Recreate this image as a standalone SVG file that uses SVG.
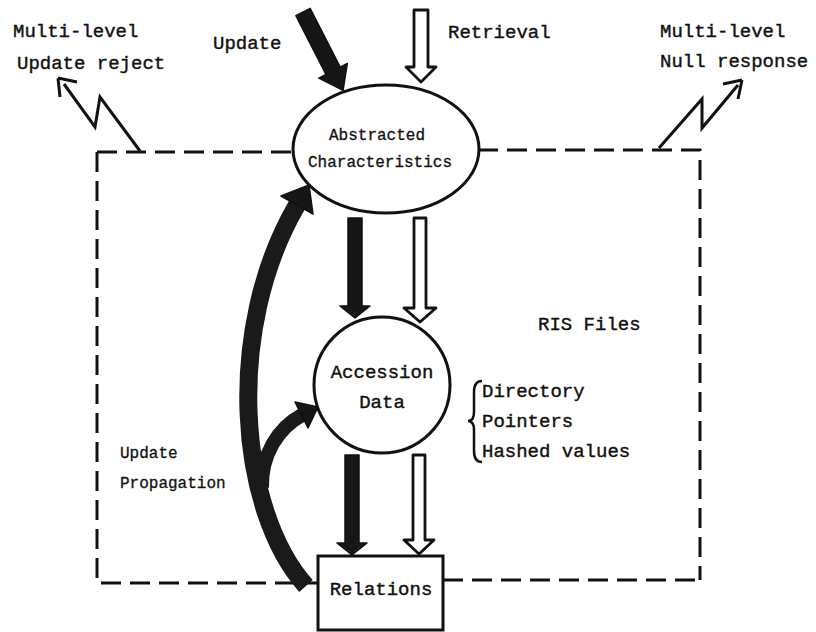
<svg xmlns="http://www.w3.org/2000/svg" width="816" height="632" viewBox="0 0 816 632">
<style>
.t{font-family:"Liberation Mono","Courier New",monospace;font-size:19px;fill:#111;stroke:#111;stroke-width:0.4}
.s{font-family:"Liberation Mono","Courier New",monospace;font-size:16px;fill:#111;stroke:#111;stroke-width:0.3}
.ln{fill:none;stroke:#111;stroke-width:3}
.dash{fill:none;stroke:#111;stroke-width:3;stroke-dasharray:20 9}
.dark{fill:#161616;stroke:#111;stroke-width:1.5;stroke-linejoin:round}
.hol{fill:#fff;stroke:#111;stroke-width:2.8;stroke-linejoin:round}
.curve{fill:none;stroke:#1a1a1a;stroke-linecap:butt}
</style>
<rect width="816" height="632" fill="#fff"/>
<g id="ris-box">
<path class="dash" d="M97,152 L293,152"/>
<path class="dash" d="M478,150 L700,150 L700,580"/>
<path class="dash" d="M97,152 L97,583 L318,583"/>
<path class="dash" d="M443,580 L700,580"/>
<text class="t" x="538" y="330">RIS Files</text>
</g>
<g id="connectors">
<path class="dark" transform="translate(303,12) rotate(-27.1)" d="M-8,0 L8,0 L8,66 L16,66 L0,88 L-16,66 L-8,66 Z"/>
<path class="hol" transform="translate(421,10)" d="M-7,0 L7,0 L7,57 L15,57 L0,72 L-15,57 L-7,57 Z"/>
<path class="dark" transform="translate(355,218)" d="M-7,0 L7,0 L7,88 L15,88 L0,100 L-15,88 L-7,88 Z"/>
<path class="hol" transform="translate(420,218)" d="M-6,0 L6,0 L6,90 L16,90 L0,104 L-16,90 L-6,90 Z"/>
<path class="dark" transform="translate(352,455)" d="M-7,0 L7,0 L7,88 L15,88 L0,100 L-15,88 L-7,88 Z"/>
<path class="hol" transform="translate(419,455)" d="M-6,0 L6,0 L6,85 L15,85 L0,99 L-15,85 L-6,85 Z"/>
<path class="curve" stroke-width="18" d="M306,586 C238,510 224,330 297,205"/>
<path class="dark" d="M309,185 L313,214 L281,196 Z"/>
<path class="curve" stroke-width="14" d="M262,488 C261,455 278,428 302,415"/>
<path class="dark" d="M318,407 L308,428 L295,402 Z"/>
<path class="ln" stroke-linejoin="miter" d="M140,151 L100,97 L95,127 L64,84"/>
<path class="ln" d="M58,78 L60,97 M58,78 L77,82"/>
<path class="ln" stroke-linejoin="miter" d="M659,148 L702,99 L702,128 L738,85"/>
<path class="ln" d="M742,80 L723,84 M742,80 L738,99"/>
<text class="s" x="120" y="458">Update</text>
<text class="s" x="120" y="488">Propagation</text>
</g>
<g id="labels">
<text class="t" x="13" y="37">Multi-level</text>
<text class="t" x="17" y="69">Update reject</text>
<text class="t" x="213" y="49">Update</text>
<text class="t" x="448" y="38">Retrieval</text>
<text class="t" x="660" y="37">Multi-level</text>
<text class="t" x="660" y="67">Null response</text>
</g>
<g id="abstracted">
<ellipse class="ln" cx="386" cy="149" rx="93" ry="64"/>
<text class="s" x="377" y="140" text-anchor="middle">Abstracted</text>
<text class="s" x="380" y="167" text-anchor="middle">Characteristics</text>
</g>
<g id="accession">
<circle class="ln" cx="382" cy="385" r="68"/>
<text class="t" x="382" y="378" text-anchor="middle">Accession</text>
<text class="t" x="382" y="408" text-anchor="middle">Data</text>
</g>
<g id="accession-notes">
<path fill="none" stroke="#111" stroke-width="2.5" d="M482,381 Q474,381 474,392 L474,412 Q474,421 468,421 Q474,421 474,430 L474,451 Q474,462 482,462"/>
<text class="t" x="482" y="397">Directory</text>
<text class="t" x="482" y="427">Pointers</text>
<text class="t" x="482" y="457">Hashed values</text>
</g>
<g id="relations">
<rect class="ln" x="318" y="556" width="125" height="74"/>
<text class="t" x="381" y="595" text-anchor="middle">Relations</text>
</g>
</svg>
